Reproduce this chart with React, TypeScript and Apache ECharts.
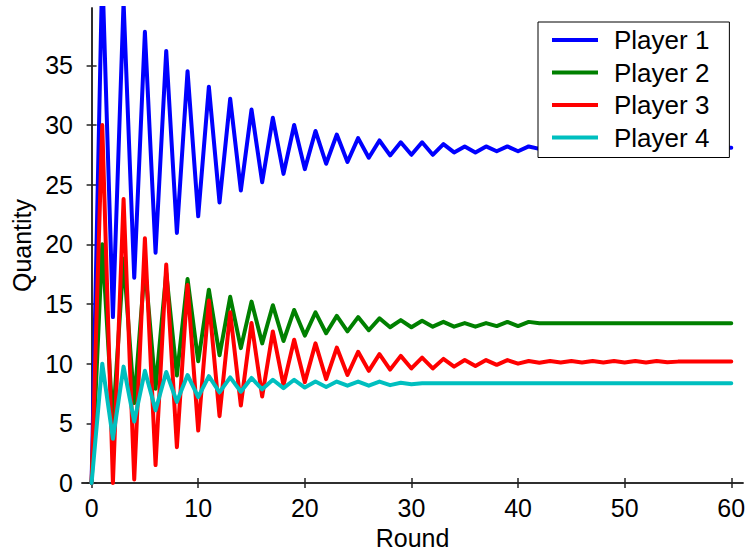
import React, { useEffect, useRef } from "react";
import * as echarts from "echarts";

const ROUNDS = [
  0, 1, 2, 3, 4, 5, 6, 7, 8, 9, 10, 11, 12, 13, 14, 15, 16, 17, 18, 19, 20,
  21, 22, 23, 24, 25, 26, 27, 28, 29, 30, 31, 32, 33, 34, 35, 36, 37, 38, 39,
  40, 41, 42, 43, 44, 45, 46, 47, 48, 49, 50, 51, 52, 53, 54, 55, 56, 57, 58,
  59, 60,
];

const PLAYER_1 = [
  0, 43, 13.9, 40.3, 17.2, 37.8, 19.3, 36.2, 20.95, 34.5,
  22.35, 33.2, 23.5, 32.2, 24.5, 31.3, 25.2, 30.6, 25.9, 30.0,
  26.3, 29.5, 26.75, 29.2, 26.9, 28.9, 27.25, 28.7, 27.45, 28.55,
  27.5, 28.55, 27.5, 28.4, 27.7, 28.2, 27.7, 28.2, 27.8, 28.2,
  27.8, 28.2, 28.0, 28.15, 28.1, 28.1, 28.1, 28.1, 28.1, 28.1,
  28.1, 28.1, 28.1, 28.1, 28.1, 28.1, 28.1, 28.1, 28.1, 28.1, 28.1,
];

const PLAYER_2 = [
  0, 20.0, 5.0, 18.8, 6.7, 18.2, 7.9, 17.6, 9.0, 17.1,
  10.2, 16.2, 10.7, 15.6, 11.3, 15.2, 11.7, 14.9, 11.9, 14.5,
  12.35, 14.3, 12.55, 14.0, 12.7, 13.9, 12.8, 13.8, 13.05, 13.65,
  13.05, 13.6, 13.1, 13.5, 13.1, 13.4, 13.1, 13.4, 13.15, 13.5,
  13.15, 13.5, 13.38, 13.38, 13.38, 13.38, 13.38, 13.38, 13.38, 13.38,
  13.38, 13.38, 13.38, 13.38, 13.38, 13.38, 13.38, 13.38, 13.38, 13.38, 13.38,
];

const PLAYER_3 = [
  0, 30.0, 0.0, 23.8, 0.3, 20.5, 1.5, 18.3, 3.0, 16.6,
  4.4, 15.3, 5.6, 14.3, 6.5, 13.4, 7.25, 12.7, 8.2, 12.0,
  8.45, 11.7, 8.7, 11.35, 9.05, 11.0, 9.4, 10.8, 9.5, 10.65,
  9.6, 10.5, 9.6, 10.4, 9.75, 10.3, 9.8, 10.3, 9.9, 10.3,
  10.0, 10.22, 10.08, 10.22, 10.1, 10.22, 10.1, 10.22, 10.1, 10.22,
  10.1, 10.22, 10.1, 10.22, 10.12, 10.17, 10.17, 10.17, 10.17, 10.17, 10.17,
];

const PLAYER_4 = [
  0, 10.0, 3.7, 9.75, 5.15, 9.4, 6.1, 9.3, 6.8, 9.05,
  7.2, 8.95, 7.6, 8.85, 7.65, 8.8, 7.85, 8.65, 7.95, 8.65,
  8.0, 8.5, 8.05, 8.5, 8.15, 8.5, 8.15, 8.5, 8.2, 8.4,
  8.28, 8.36, 8.36, 8.36, 8.36, 8.36, 8.36, 8.36, 8.36, 8.36,
  8.36, 8.36, 8.36, 8.36, 8.36, 8.36, 8.36, 8.36, 8.36, 8.36,
  8.36, 8.36, 8.36, 8.36, 8.36, 8.36, 8.36, 8.36, 8.36, 8.36, 8.36,
];

const SERIES_NAMES = ["Player 1", "Player 2", "Player 3", "Player 4"];
const SERIES_COLORS = ["#0000ff", "#008000", "#ff0000", "#00bfbf"];
const X_TICKS = [0, 10, 20, 30, 40, 50, 60];
const Y_TICKS = [0, 5, 10, 15, 20, 25, 30, 35];

const FONT = "'Liberation Sans', Arial, Helvetica, sans-serif";
const AXIS_COLOR = "#222";

export default function App() {
  const ref = useRef<HTMLDivElement>(null);

  useEffect(() => {
    if (!ref.current) return;
    const chart = echarts.init(ref.current, undefined, { renderer: "svg" });
    const allData = [PLAYER_1, PLAYER_2, PLAYER_3, PLAYER_4];

    const axisLine = { show: true, lineStyle: { color: AXIS_COLOR, width: 1.5 } };
    const xTick = {
      show: true,
      inside: true,
      length: 5,
      customValues: X_TICKS,
      lineStyle: { color: AXIS_COLOR, width: 1.5 },
    };
    const yTick = {
      show: true,
      inside: true,
      length: 5,
      customValues: Y_TICKS,
      lineStyle: { color: AXIS_COLOR, width: 1.5 },
    };

    chart.setOption({
      animation: false,
      backgroundColor: "#ffffff",
      grid: {
        left: 82,
        right: 5,
        top: 8,
        bottom: 70,
        containLabel: false,
        outerBoundsMode: "none",
      },
      legend: {
        data: SERIES_NAMES,
        orient: "vertical",
        left: 538,
        top: 22,
        padding: [4, 20, 6, 14],
        itemGap: 4.5,
        itemWidth: 46,
        itemHeight: 4,
        icon: "rect",
        backgroundColor: "#ffffff",
        borderColor: "#000000",
        borderWidth: 1,
        borderRadius: 0,
        textStyle: {
          color: "#000000",
          fontFamily: FONT,
          fontSize: 26,
          lineHeight: 28,
          padding: [0, 0, 0, 11],
        },
      },
      xAxis: [
        {
          type: "value",
          position: "bottom",
          min: -0.9,
          max: 61.1,
          name: "Round",
          nameLocation: "middle",
          nameGap: 42,
          nameTextStyle: { color: "#000", fontFamily: FONT, fontSize: 25 },
          axisLine,
          axisTick: xTick,
          axisLabel: {
            show: true,
            customValues: X_TICKS,
            color: "#000",
            fontFamily: FONT,
            fontSize: 25,
            margin: 12,
          },
          splitLine: { show: false },
        },
        {
          type: "value",
          position: "top",
          min: -0.9,
          max: 61.1,
          axisLine,
          axisTick: xTick,
          axisLabel: { show: false },
          splitLine: { show: false },
        },
      ],
      yAxis: [
        {
          type: "value",
          position: "left",
          min: 0,
          max: 39.8,
          name: "Quantity",
          nameLocation: "middle",
          nameGap: 47,
          nameTextStyle: { color: "#000", fontFamily: FONT, fontSize: 25 },
          axisLine,
          axisTick: yTick,
          axisLabel: {
            show: true,
            customValues: Y_TICKS,
            color: "#000",
            fontFamily: FONT,
            fontSize: 25,
            margin: 9,
          },
          splitLine: { show: false },
        },
        {
          type: "value",
          position: "right",
          min: 0,
          max: 39.8,
          axisLine,
          axisTick: yTick,
          axisLabel: { show: false },
          splitLine: { show: false },
        },
      ],
      series: SERIES_NAMES.map((name, i) => ({
        name,
        type: "line",
        xAxisIndex: 0,
        yAxisIndex: 0,
        data: ROUNDS.map((r, j) => [r, allData[i][j]]),
        showSymbol: false,
        symbol: "none",
        clip: true,
        color: SERIES_COLORS[i],
        lineStyle: { color: SERIES_COLORS[i], width: 4, join: "round", cap: "round" },
      })),
    });

    return () => {
      chart.dispose();
    };
  }, []);

  return (
    <div
      ref={ref}
      style={{
        position: "fixed",
        left: 0,
        top: 0,
        width: 748,
        height: 553,
        background: "#fff",
      }}
    />
  );
}
